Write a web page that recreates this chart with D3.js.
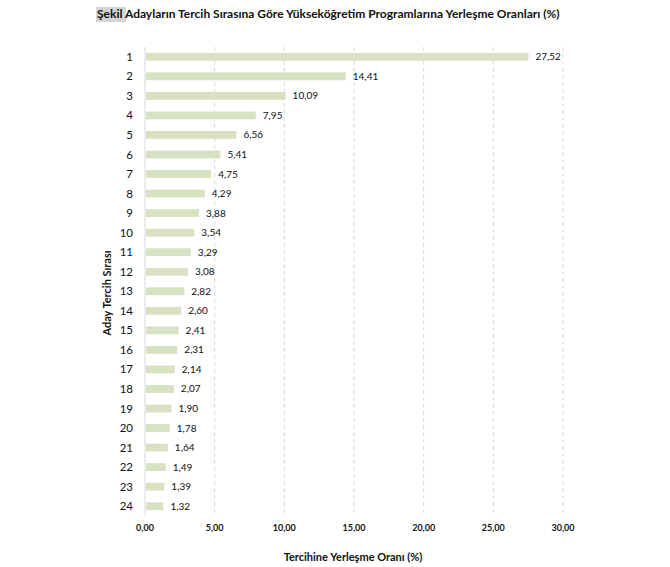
<!DOCTYPE html>
<html>
<head>
<meta charset="utf-8">
<script src="https://cdn.jsdelivr.net/npm/d3@7"></script>
<style>
  body { margin: 0; background: #fff; }
  text { font-family: Lato, "Open Sans", sans-serif; fill: #111; }
</style>
</head>
<body>
<svg id="chart"></svg>
<script>
var width = 670,
    height = 567;

var ranks = ["1","2","3","4","5","6","7","8","9","10","11","12","13","14","15","16","17","18","19","20","21","22","23","24"];
var rates = [27.52, 14.41, 10.09, 7.95, 6.56, 5.41, 4.75, 4.29, 3.88, 3.54, 3.29, 3.08, 2.82, 2.60, 2.41, 2.31, 2.14, 2.07, 1.90, 1.78, 1.64, 1.49, 1.39, 1.32];
var xTicks = [0, 5, 10, 15, 20, 25, 30];

var fmt = function (v) { return d3.format(".2f")(v).replace(".", ","); };

var svg = d3.select("#chart")
    .attr("width", width)
    .attr("height", height);

var plotLeft = 145, plotRight = 563, plotTop = 47, plotBottom = 516;

var x = d3.scaleLinear()
    .domain([0, 30])
    .range([plotLeft, plotRight]);

var y = d3.scaleBand()
    .domain(ranks)
    .range([plotTop, plotBottom])
    .paddingInner(0.6)
    .paddingOuter(0.3);

// gridlines
svg.append("g")
    .selectAll("line")
    .data(xTicks.slice(1))
    .enter().append("line")
    .attr("x1", function (d) { return x(d); })
    .attr("x2", function (d) { return x(d); })
    .attr("y1", plotTop)
    .attr("y2", plotBottom)
    .attr("stroke", "#d9d9d9")
    .attr("stroke-dasharray", "4,3");

// axis line
svg.append("line")
    .attr("x1", x(0)).attr("x2", x(0))
    .attr("y1", plotTop).attr("y2", plotBottom)
    .attr("stroke", "#d9d9d9");

var data = ranks.map(function (r, i) { return { rank: r, value: rates[i] }; });

svg.append("g")
    .selectAll("rect")
    .data(data)
    .enter().append("rect")
    .attr("x", x(0) + 1)
    .attr("y", function (d) { return y(d.rank); })
    .attr("width", function (d) { return x(d.value) - x(0) - 1; })
    .attr("height", y.bandwidth())
    .attr("fill", "#d8e1c1");

// value labels
svg.append("g")
    .selectAll("text")
    .data(data)
    .enter().append("text")
    .attr("x", function (d) { return x(d.value) + 7; })
    .attr("y", function (d) { return y(d.rank) + y.bandwidth() / 2; })
    .attr("dy", "0.35em")
    .style("font-size", "10px")
    .text(function (d) { return fmt(d.value); });

// y tick labels
svg.append("g")
    .selectAll("text")
    .data(ranks)
    .enter().append("text")
    .attr("x", 133)
    .attr("y", function (d) { return y(d) + y.bandwidth() / 2; })
    .attr("dy", "0.35em")
    .attr("text-anchor", "end")
    .style("font-size", "11.5px")
    .text(function (d) { return d; });

// x tick labels
svg.append("g")
    .selectAll("text")
    .data(xTicks)
    .enter().append("text")
    .attr("x", function (d) { return x(d); })
    .attr("y", 531)
    .attr("text-anchor", "middle")
    .style("font-size", "9px")
    .style("font-weight", "bold")
    .text(function (d) { return fmt(d); });

// axis titles
svg.append("text")
    .attr("x", 353)
    .attr("y", 561)
    .attr("text-anchor", "middle")
    .style("font-size", "11px")
    .style("font-weight", "bold")
    .text("Tercihine Yerleşme Oranı (%)");

svg.append("text")
    .attr("transform", "translate(111,293) rotate(-90)")
    .attr("text-anchor", "middle")
    .style("font-size", "11px")
    .style("font-weight", "bold")
    .text("Aday Tercih Sırası");

// title
var title = svg.append("g").attr("transform", "translate(97,18)");
title.append("rect")
    .attr("x", -1).attr("y", -11)
    .attr("width", 30).attr("height", 15)
    .attr("fill", "#d4d4d4");
title.append("text")
    .style("font-size", "12px")
    .style("font-weight", "bold")
    .text("Şekil Adayların Tercih Sırasına Göre Yükseköğretim Programlarına Yerleşme Oranları (%)");
</script>
</body>
</html>
